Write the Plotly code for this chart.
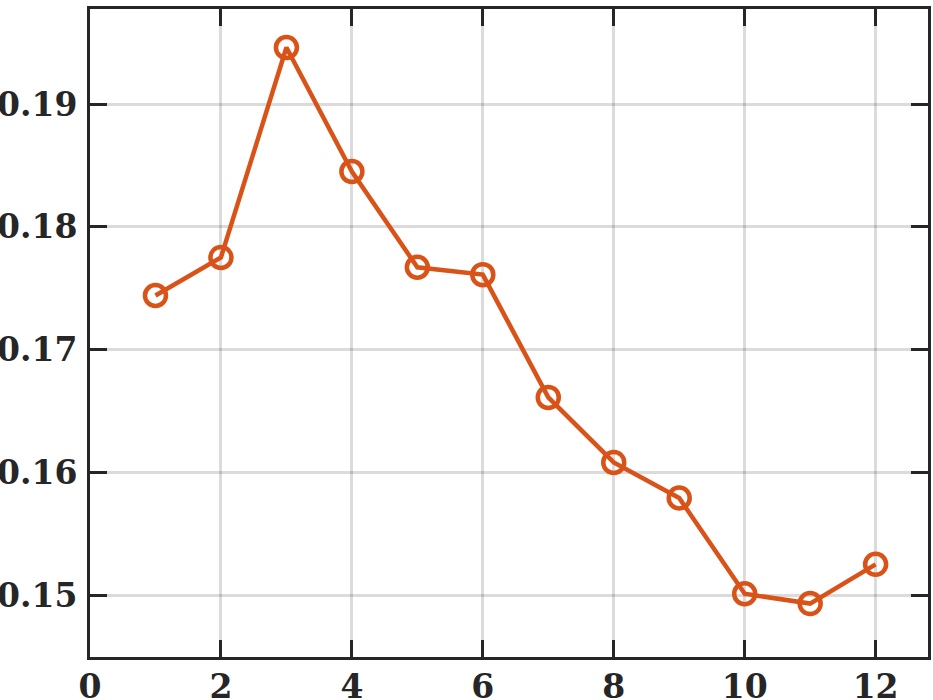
import plotly.graph_objects as go

x_vals = [1, 2, 3, 4, 5, 6, 7, 8, 9, 10, 11, 12]
y_vals = [0.1744, 0.1775, 0.1946, 0.1845, 0.1767, 0.1761, 0.1661, 0.1608, 0.1579, 0.1501, 0.1493, 0.1525]
x_ticks = [0, 2, 4, 6, 8, 10, 12]
y_ticks = [0.15, 0.16, 0.17, 0.18, 0.19]

color = "#D95319"

fig = go.Figure()
fig.add_trace(go.Scatter(
    x=x_vals, y=y_vals, mode="lines+markers",
    line=dict(color=color, width=4.5),
    marker=dict(symbol="circle-open", size=21, color=color, line=dict(width=4.5, color=color)),
    showlegend=False))

axis_style = dict(
    showline=True, linecolor="#262626", linewidth=3, mirror="ticks",
    ticks="inside", ticklen=17, tickwidth=3, tickcolor="#262626",
    showgrid=True, gridcolor="rgba(0,0,0,0.14)", gridwidth=3,
    zeroline=False, automargin=False,
    tickfont=dict(family="DejaVu Serif", size=33, color="#262626", weight="bold"),
)

fig.update_xaxes(range=[0, 12.8], tickvals=x_ticks, ticklabelstandoff=-2, **axis_style)
fig.update_yaxes(range=[0.14495, 0.19774], tickvals=y_ticks, tickformat=".2f",
                 ticklabelstandoff=3, **axis_style)

fig.update_layout(
    width=933, height=700,
    margin=dict(l=90, r=5, t=9, b=43),
    plot_bgcolor="white", paper_bgcolor="white",
    font=dict(family="DejaVu Serif"),
)

# drop the browser's default body margin so the figure sits at the page corner
fig.write_html("out.html", config={"displayModeBar": False},
               post_script="document.body.style.margin='0';")
